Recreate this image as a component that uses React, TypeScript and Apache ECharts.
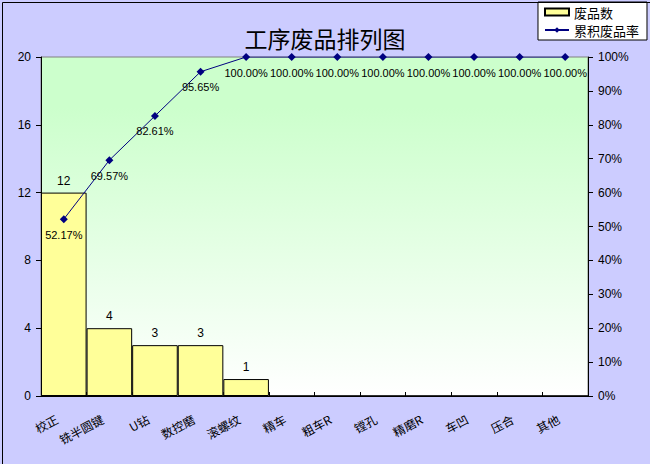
import React, { useEffect, useRef } from "react";
import * as echarts from "echarts";

const categories = ["校正", "铣半圆键", "U钻", "数控磨", "滚螺纹", "精车", "粗车R", "镗孔", "精磨R", "车凹", "压合", "其他"];
const defectCounts = [12, 4, 3, 3, 1, 0, 0, 0, 0, 0, 0, 0];
const cumulativeRates = [52.17, 69.57, 82.61, 95.65, 100, 100, 100, 100, 100, 100, 100, 100];
const leftTicks = [0, 4, 8, 12, 16, 20];
const rightTicks = [0, 10, 20, 30, 40, 50, 60, 70, 80, 90, 100];

const NUM_FONT = "'Liberation Sans', Arial, sans-serif";
const CJK_FONT = "'Noto Sans CJK SC', 'Liberation Sans', sans-serif";

export default function App() {
  const ref = useRef<HTMLDivElement>(null);

  useEffect(() => {
    if (!ref.current) return;
    const chart = echarts.init(ref.current, undefined, { renderer: "svg" });
    chart.setOption({
      animation: false,
      backgroundColor: "#CCCCFF",
      title: {
        text: "工序废品排列图",
        left: "center",
        top: 21,
        textStyle: { fontFamily: CJK_FONT, fontSize: 23, fontWeight: "normal", color: "#000" },
      },
      legend: {
        orient: "vertical",
        right: 3,
        top: 2,
        padding: [3, 8, 3, 6],
        itemGap: 4,
        itemWidth: 24,
        itemHeight: 7,
        backgroundColor: "#FFFFFF",
        borderColor: "#000000",
        borderWidth: 1,
        borderRadius: 0,
        textStyle: { fontFamily: CJK_FONT, fontSize: 13, lineHeight: 14, color: "#000" },
        data: [{ name: "废品数", icon: "rect" }, { name: "累积废品率" }],
      },
      grid: {
        left: 41,
        right: 62,
        top: 57,
        bottom: 68,
        show: true,
        borderColor: "#808080",
        borderWidth: 1,
        backgroundColor: new echarts.graphic.LinearGradient(0, 0, 0, 1, [
          { offset: 0, color: "#CCFFCC" },
          { offset: 0.15, color: "#CCFFCC" },
          { offset: 1, color: "#FFFFFF" },
        ]),
      },
      xAxis: {
        type: "category",
        data: categories,
        boundaryGap: true,
        axisLine: { lineStyle: { color: "#000", width: 1 } },
        axisTick: { show: true, inside: true, length: 4, alignWithLabel: false, lineStyle: { color: "#000" } },
        axisLabel: {
          interval: 0,
          rotate: 28,
          margin: 18,
          padding: [0, 8, 0, 0],
          fontFamily: CJK_FONT,
          fontSize: 12,
          color: "#000",
        },
        splitLine: { show: false },
      },
      yAxis: [
        {
          type: "value",
          min: leftTicks[0],
          max: leftTicks[leftTicks.length - 1],
          interval: leftTicks[1] - leftTicks[0],
          position: "left",
          axisLine: { show: true, lineStyle: { color: "#000", width: 1 } },
          axisTick: { show: true, inside: false, length: 5, lineStyle: { color: "#000" } },
          axisLabel: { margin: 10, fontFamily: NUM_FONT, fontSize: 12, color: "#000" },
          splitLine: { show: false },
        },
        {
          type: "value",
          min: rightTicks[0],
          max: rightTicks[rightTicks.length - 1],
          interval: rightTicks[1] - rightTicks[0],
          position: "right",
          axisLine: { show: true, lineStyle: { color: "#000", width: 1 } },
          axisTick: { show: true, inside: false, length: 5, lineStyle: { color: "#000" } },
          axisLabel: { margin: 10, formatter: "{value}%", fontFamily: NUM_FONT, fontSize: 12, color: "#000" },
          splitLine: { show: false },
        },
      ],
      series: [
        {
          name: "废品数",
          type: "bar",
          yAxisIndex: 0,
          data: defectCounts,
          barCategoryGap: "0%",
          itemStyle: { color: "#FFFF99", borderColor: "#000", borderWidth: 1 },
          label: {
            show: true,
            position: "top",
            distance: 6,
            fontFamily: NUM_FONT,
            fontSize: 12,
            color: "#000",
            formatter: (p: any) => (p.value > 0 ? String(p.value) : ""),
          },
        },
        {
          name: "累积废品率",
          type: "line",
          yAxisIndex: 1,
          data: cumulativeRates,
          symbol: "diamond",
          symbolSize: 8,
          lineStyle: { color: "#000080", width: 1 },
          itemStyle: { color: "#000080" },
          label: {
            show: true,
            position: "bottom",
            distance: 6,
            fontFamily: NUM_FONT,
            fontSize: 11,
            color: "#000",
            formatter: (p: any) => Number(p.value).toFixed(2) + "%",
          },
        },
      ],
      graphic: [
        {
          type: "rect",
          left: 0,
          top: 0,
          shape: { x: 0.5, y: 0.5, width: 649, height: 463 },
          style: { fill: "none", stroke: "#000", lineWidth: 1 },
          silent: true,
          z: 100,
        },
      ],
    });
    return () => chart.dispose();
  }, []);

  return (
    <div
      ref={ref}
      style={{ position: "absolute", left: 0, top: 0, width: 650, height: 464 }}
    />
  );
}
